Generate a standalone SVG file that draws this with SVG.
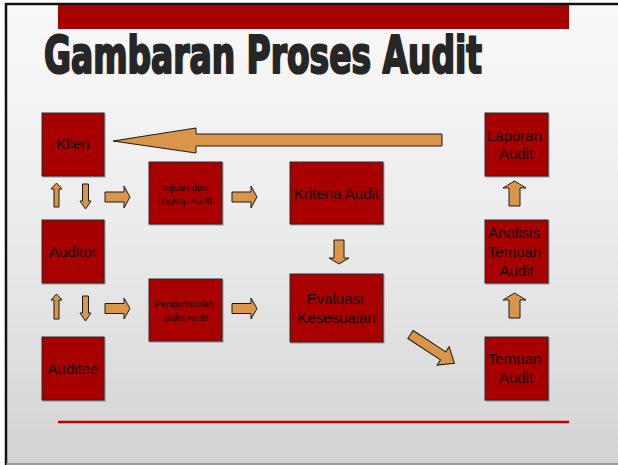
<svg xmlns="http://www.w3.org/2000/svg" width="618" height="465" viewBox="0 0 618 465">
  <defs>
    <linearGradient id="bg" x1="0" y1="0" x2="0" y2="1">
      <stop offset="0" stop-color="#f9f9f9"/>
      <stop offset="0.5" stop-color="#ebebeb"/>
      <stop offset="1" stop-color="#d3d3d3"/>
    </linearGradient>
    <filter id="shadow" x="-10%" y="-10%" width="130%" height="130%">
      <feDropShadow dx="1" dy="1" stdDeviation="0.6" flood-color="#000" flood-opacity="0.35"/>
    </filter>
    <style>
      .box { fill: #a80000; stroke: #2a2a2a; stroke-width: 1; filter: url(#shadow); }
      .arrow { fill: #d99548; stroke: #1a1a1a; stroke-width: 1; stroke-linejoin: miter; }
      .lbl { font-family: "Liberation Sans", Arial, sans-serif; fill: #140000; text-anchor: middle; }
      .big { font-size: 15px; }
      .small { font-size: 9.5px; }
      .title { font-family: "Liberation Sans Narrow", "DejaVu Sans Condensed", "Liberation Sans", sans-serif; font-weight: bold; font-size: 52px; fill: #262626; stroke: #262626; stroke-width: 2.2; stroke-linejoin: round; }
    </style>
  </defs>

  <!-- page background and frame -->
  <rect x="0" y="0" width="618" height="465" fill="#ffffff"/>
  <rect x="6" y="4" width="612" height="461" fill="url(#bg)"/>
  <line x1="5" y1="4" x2="618" y2="4" stroke="#111" stroke-width="2.5"/>
  <line x1="6" y1="3" x2="6" y2="465" stroke="#111" stroke-width="2.5"/>
  <line x1="6" y1="464" x2="618" y2="464" stroke="#8a8a8a" stroke-width="1.5"/>

  <!-- header bar and title -->
  <rect x="58" y="5" width="511" height="24" fill="#a80000"/>
  <text class="title" x="44" y="73" textLength="438" lengthAdjust="spacingAndGlyphs">Gambaran Proses Audit</text>

  <!-- footer rule -->
  <line x1="58" y1="422" x2="569" y2="422" stroke="#c00000" stroke-width="2.5"/>

  <!-- connectors -->
  <g id="connectors">
    <!-- long return arrow to Klien -->
    <polygon class="arrow" points="113,141 196,128 196,134 442,134 442,146 196,146 196,153"/>
    <!-- Klien / Auditor -->
    <polygon class="arrow" points="56.5,183 62,189 59,189 59,207 54,207 54,189 51,189"/>
    <polygon class="arrow" points="82.5,184 88.5,184 88.5,201 91,201 85.5,209 80,201 82.5,201"/>
    <!-- Auditor / Auditee -->
    <polygon class="arrow" points="56.5,294 62,300 59,300 59,319 54,319 54,300 51,300"/>
    <polygon class="arrow" points="82.5,296 88.5,296 88.5,313 91,313 85.5,321 80,313 82.5,313"/>
    <!-- into Tujuan dan lingkup Audit -->
    <polygon class="arrow" points="105,192 124,192 124,186 130,197 124,208 124,202 105,202"/>
    <!-- Tujuan to Kriteria -->
    <polygon class="arrow" points="232,192 251,192 251,186 257,197 251,208 251,202 232,202"/>
    <!-- into Pengumpulan Bukti Audit -->
    <polygon class="arrow" points="105,303.5 124,303.5 124,298 130,308.5 124,319 124,313.5 105,313.5"/>
    <!-- Pengumpulan to Evaluasi -->
    <polygon class="arrow" points="232,303.5 251,303.5 251,298 257,308.5 251,319 251,313.5 232,313.5"/>
    <!-- Kriteria to Evaluasi -->
    <polygon class="arrow" points="334,240 344,240 344,258 349,258 339,264 329,258 334,258"/>
    <!-- Evaluasi to Temuan -->
    <polygon class="arrow" transform="translate(410.5,334.5) rotate(33.2)" points="0,-4.8 39,-4.8 39,-11 52.5,0 39,11 39,4.8 0,4.8"/>
    <!-- Temuan to Analisis -->
    <polygon class="arrow" points="514.5,293 526,300 520,300 520,318 509,318 509,300 503,300"/>
    <!-- Analisis to Laporan -->
    <polygon class="arrow" points="514.5,181 526,188 520,188 520,206 509,206 509,188 503,188"/>
  </g>

  <!-- nodes -->
  <g id="klien">
    <rect class="box" x="42" y="113" width="62" height="63"/>
    <text class="lbl big" x="73" y="149">Klien</text>
  </g>
  <g id="auditor">
    <rect class="box" x="42" y="220" width="62" height="63"/>
    <text class="lbl big" x="73" y="257">Auditor</text>
  </g>
  <g id="auditee">
    <rect class="box" x="42" y="337" width="62" height="63"/>
    <text class="lbl big" x="73" y="374">Auditee</text>
  </g>
  <g id="tujuan">
    <rect class="box" x="149" y="162" width="73" height="62"/>
    <text class="lbl small" x="184" y="191">Tujuan dan</text>
    <text class="lbl small" x="185" y="204">lingkup Audit</text>
  </g>
  <g id="pengumpulan">
    <rect class="box" x="149" y="279" width="73" height="62"/>
    <text class="lbl small" x="184" y="307">Pengumpulan</text>
    <text class="lbl small" x="186" y="321">Bukti Audit</text>
  </g>
  <g id="kriteria">
    <rect class="box" x="290" y="162" width="93" height="62"/>
    <text class="lbl big" x="336.5" y="199">Kriteria Audit</text>
  </g>
  <g id="evaluasi">
    <rect class="box" x="290" y="274" width="93" height="68"/>
    <text class="lbl big" x="335" y="304">Evaluasi</text>
    <text class="lbl big" x="336.5" y="323">Kesesuaian</text>
  </g>
  <g id="laporan">
    <rect class="box" x="485" y="113" width="63" height="63"/>
    <text class="lbl big" x="514.5" y="141">Laporan</text>
    <text class="lbl big" x="516" y="159">Audit</text>
  </g>
  <g id="analisis">
    <rect class="box" x="485" y="220" width="63" height="63"/>
    <text class="lbl big" x="514" y="238">Analisis</text>
    <text class="lbl big" x="514.5" y="257">Temuan</text>
    <text class="lbl big" x="516.5" y="276">Audit</text>
  </g>
  <g id="temuan">
    <rect class="box" x="485" y="337" width="63" height="63"/>
    <text class="lbl big" x="514.5" y="364">Temuan</text>
    <text class="lbl big" x="516" y="383">Audit</text>
  </g>
</svg>
